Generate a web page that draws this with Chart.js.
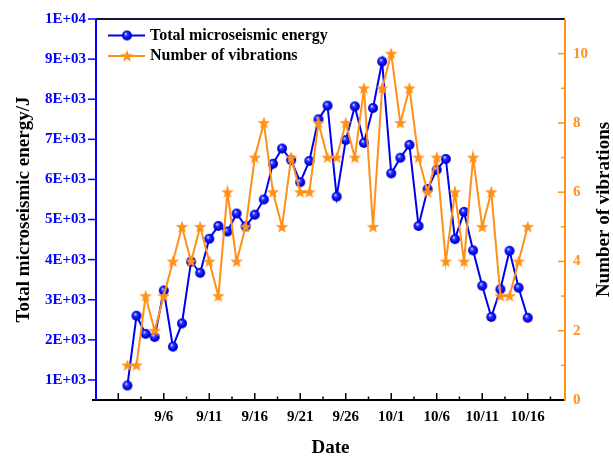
<!DOCTYPE html>
<html>
<head>
<meta charset="utf-8">
<script src="https://cdn.jsdelivr.net/npm/chart.js@4.4.1/dist/chart.umd.min.js"></script>
<style>
  html, body { margin: 0; padding: 0; background: #fff; }
  #grafico { display: block; }
</style>
</head>
<body>
<canvas id="grafico" width="613" height="458"></canvas>
<script>
// dados (9/2 a 10/16)
const datas = ['9/2','9/3','9/4','9/5','9/6','9/7','9/8','9/9','9/10','9/11','9/12','9/13','9/14','9/15','9/16',
  '9/17','9/18','9/19','9/20','9/21','9/22','9/23','9/24','9/25','9/26','9/27','9/28','9/29','9/30',
  '10/1','10/2','10/3','10/4','10/5','10/6','10/7','10/8','10/9','10/10','10/11','10/12','10/13','10/14','10/15','10/16'];

const energia = [860, 2600, 2150, 2070, 3230, 1830, 2410, 3950, 3670, 4520, 4840, 4700, 5150, 4830, 5120,
  5500, 6390, 6770, 6480, 5930, 6460, 7500, 7840, 5570, 6980, 7820, 6910, 7780, 8940,
  6150, 6540, 6860, 4840, 5760, 6240, 6510, 4510, 5190, 4230, 3350, 2570, 3260, 4220, 3300, 2550];

const vibracoes = [1, 1, 3, 2, 3, 4, 5, 4, 5, 4, 3, 6, 4, 5, 7,
  8, 6, 5, 7, 6, 6, 8, 7, 7, 8, 7, 9, 5, 9,
  10, 8, 9, 7, 6, 7, 4, 6, 4, 7, 5, 6, 3, 3, 4, 5];

const rotulosX = ['9/6','9/11','9/16','9/21','9/26','10/1','10/6','10/11','10/16'];
const ticksEnergia = [1000, 2000, 3000, 4000, 5000, 6000, 7000, 8000, 9000, 10000];

const AZUL = '#0000ff';
const LARANJA = '#ff9018';
const FONTE = "'Liberation Serif', 'Times New Roman', serif";

// dias contados a partir de 9/1
function diaDe(rotulo) {
    const [m, d] = rotulo.split('/').map(Number);
    return m === 9 ? d - 1 : 29 + d;
}

function formatoCientifico(v) {
    const e = Math.floor(Math.log10(v) + 1e-9);
    const m = Math.round(v / Math.pow(10, e));
    return m + 'E+' + String(e).padStart(2, '0');
}

// marcadores
function criarBola() {
    const c = document.createElement('canvas');
    c.width = 12; c.height = 12;
    const g = c.getContext('2d');
    const grad = g.createRadialGradient(4.6, 4.2, 0.3, 6, 6, 5.2);
    grad.addColorStop(0, '#e8ecff');
    grad.addColorStop(0.25, '#3344ff');
    grad.addColorStop(0.7, '#0000f0');
    grad.addColorStop(1, '#0000a8');
    g.fillStyle = grad;
    g.beginPath();
    g.arc(6, 6, 5, 0, Math.PI * 2);
    g.fill();
    return c;
}

function criarEstrela() {
    const c = document.createElement('canvas');
    c.width = 14; c.height = 14;
    const g = c.getContext('2d');
    g.fillStyle = LARANJA;
    g.beginPath();
    for (let i = 0; i < 10; i++) {
        const r = i % 2 === 0 ? 6.6 : 2.7;
        const ang = -Math.PI / 2 + i * Math.PI / 5;
        g.lineTo(7 + r * Math.cos(ang), 7.4 + r * Math.sin(ang));
    }
    g.closePath();
    g.fill();
    return c;
}

const bola = criarBola();
const estrela = criarEstrela();

const pontosEnergia = datas.map((d, i) => ({x: diaDe(d), y: energia[i]}));
const pontosVibracoes = datas.map((d, i) => ({x: diaDe(d), y: vibracoes[i]}));

const moldura = {
    id: 'moldura',
    afterDraw(chart) {
        const {ctx, chartArea: a, scales} = chart;
        ctx.save();
        function linha(x1, y1, x2, y2) {
            ctx.beginPath(); ctx.moveTo(x1, y1); ctx.lineTo(x2, y2); ctx.stroke();
        }
        // marcas do eixo x (para dentro)
        ctx.strokeStyle = '#000';
        ctx.lineWidth = 1.5;
        scales.x.ticks.forEach(t => {
            const px = scales.x.getPixelForValue(t.value);
            const maior = t.value % 5 === 0;
            linha(px, a.bottom, px, a.bottom - (maior ? 7 : 3.5));
        });
        // eixo esquerdo (para fora)
        ctx.strokeStyle = AZUL;
        scales.y.ticks.forEach(t => {
            const py = scales.y.getPixelForValue(t.value);
            linha(a.left - 8, py, a.left, py);
        });
        // eixo direito (para dentro)
        ctx.strokeStyle = LARANJA;
        scales.y1.ticks.forEach(t => {
            const py = scales.y1.getPixelForValue(t.value);
            const maior = t.value % 2 === 0;
            linha(a.right, py, a.right - (maior ? 7 : 4), py);
        });
        // linhas dos eixos
        ctx.lineWidth = 2;
        ctx.strokeStyle = '#14143c';
        linha(a.left, a.top, a.right, a.top);
        ctx.strokeStyle = '#000';
        linha(a.left - 4, a.bottom, a.right, a.bottom);
        ctx.strokeStyle = AZUL;
        linha(a.left, a.top, a.left, a.bottom);
        ctx.strokeStyle = LARANJA;
        linha(a.right, a.top, a.right, a.bottom + 1);

        // título do eixo direito, lido de baixo para cima
        ctx.fillStyle = '#000';
        ctx.font = 'bold 19px ' + FONTE;
        ctx.textAlign = 'center';
        ctx.textBaseline = 'middle';
        ctx.translate(604, (a.top + a.bottom) / 2);
        ctx.rotate(-Math.PI / 2);
        ctx.fillText('Number of vibrations', 0, 0);
        ctx.restore();
    }
};

const legenda = {
    id: 'legenda',
    afterDraw(chart) {
        const {ctx, chartArea: a} = chart;
        ctx.save();
        chart.data.datasets.forEach((ds, i) => {
            const y = a.top + 16.5 + i * 20.5;
            ctx.strokeStyle = ds.borderColor;
            ctx.lineWidth = 2;
            ctx.beginPath();
            ctx.moveTo(a.left + 12, y);
            ctx.lineTo(a.left + 49, y);
            ctx.stroke();
            const img = ds.pointStyle;
            ctx.drawImage(img, a.left + 31 - img.width / 2, y - img.height / 2);
            ctx.fillStyle = '#000';
            ctx.font = 'bold 16px ' + FONTE;
            ctx.textAlign = 'left';
            ctx.textBaseline = 'middle';
            ctx.fillText(ds.label, a.left + 54, y);
        });
        ctx.restore();
    }
};

const ctx_grafico = document.getElementById('grafico');

new Chart(ctx_grafico, {
    type: 'line',
    data: {
        datasets: [{
            label: 'Total microseismic energy',
            data: pontosEnergia,
            yAxisID: 'y',
            borderColor: '#0000ee',
            borderWidth: 2,
            pointStyle: bola,
            pointRadius: 5,
            order: 1
        }, {
            label: 'Number of vibrations',
            data: pontosVibracoes,
            yAxisID: 'y1',
            borderColor: LARANJA,
            borderWidth: 2,
            pointStyle: estrela,
            pointRadius: 6,
            order: 0
        }]
    },
    options: {
        responsive: false,
        animation: false,
        layout: { padding: { top: 17, left: 0, right: 0, bottom: 0 } },
        plugins: {
            legend: { display: false },
            tooltip: { enabled: false }
        },
        scales: {
            x: {
                type: 'linear',
                min: -2.45,
                max: 49.1,
                grid: { display: false, drawTicks: false },
                border: { display: false },
                ticks: {
                    stepSize: 2.5,
                    includeBounds: false,
                    autoSkip: false,
                    maxRotation: 0,
                    padding: 8,
                    color: '#000',
                    font: { family: FONTE, size: 15, weight: 'bold' },
                    callback: function (v) {
                        const r = rotulosX.find(l => diaDe(l) === v);
                        return r ? r : '';
                    }
                },
                title: {
                    display: true,
                    text: 'Date',
                    color: '#000',
                    font: { family: FONTE, size: 19, weight: 'bold', lineHeight: 1 },
                    padding: { top: 0, bottom: 0 }
                },
                afterFit: function (s) { s.height = 58; }
            },
            y: {
                position: 'left',
                min: 500,
                max: 10000,
                grid: { display: false, drawTicks: false },
                border: { display: false },
                afterBuildTicks: function (s) {
                    s.ticks = ticksEnergia.map(v => ({value: v}));
                },
                ticks: {
                    padding: 10,
                    color: AZUL,
                    font: { family: FONTE, size: 15, weight: 'bold' },
                    callback: function (v) { return formatoCientifico(v); }
                },
                title: {
                    display: true,
                    text: 'Total microseismic energy/J',
                    color: '#000',
                    font: { family: FONTE, size: 19, weight: 'bold', lineHeight: 1 },
                    padding: { top: 14.5, bottom: 0 }
                },
                afterFit: function (s) { s.width = 96; }
            },
            y1: {
                position: 'right',
                min: 0,
                max: 11,
                grid: { display: false, drawTicks: false },
                border: { display: false },
                ticks: {
                    stepSize: 1,
                    padding: 8,
                    color: LARANJA,
                    font: { family: FONTE, size: 15, weight: 'bold' },
                    callback: function (v) { return (v % 2 === 0 && v <= 10) ? String(v) : ''; }
                },
                afterFit: function (s) { s.width = 48; }
            }
        }
    },
    plugins: [moldura, legenda]
});
</script>
</body>
</html>
